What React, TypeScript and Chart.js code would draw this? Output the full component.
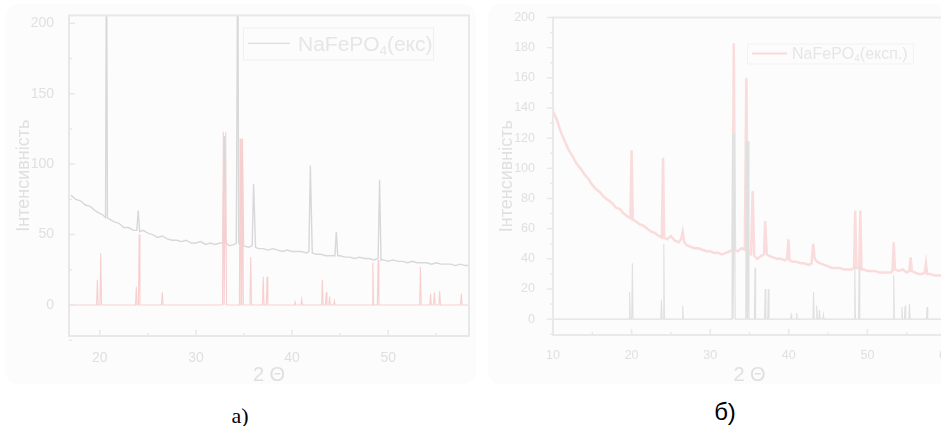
import React, { useEffect, useRef } from "react";
import { Chart, registerables } from "chart.js";
Chart.register(...registerables);

const FONT = "'Liberation Sans', Arial, sans-serif";

// ---------- Panel а: experimental pattern (2θ, intensity) ----------
const expA: [number, number][] = [
  [17, 78], [17.5, 75], [18, 74], [18.5, 71], [19, 70], [19.5, 67], [20, 65], [20.3, 64], [20.6, 62], [20.7, 260], [20.8, 62],
  [21, 61], [21.5, 59], [22, 58], [22.5, 55], [23, 55], [23.5, 53], [23.85, 53], [24.0, 67], [24.15, 52], [24.5, 53],
  [25, 51], [25.5, 50], [26, 48], [26.5, 49], [27, 47], [27.5, 46], [28, 46], [28.5, 45], [29, 46], [29.5, 44], [30, 44],
  [30.5, 45], [31, 43], [31.5, 44], [32, 43], [32.5, 44], [32.8, 44], [32.95, 120], [33.1, 44], [33.5, 42], [34.0, 43],
  [34.2, 44], [34.35, 260], [34.45, 44], [34.65, 43], [34.8, 118], [34.95, 42], [35.5, 41], [35.85, 42], [36.0, 86],
  [36.2, 41], [36.5, 40], [37, 40], [37.5, 39], [38, 40], [38.5, 39], [39, 38], [39.5, 39], [40, 38], [40.5, 38], [41, 38],
  [41.5, 37], [41.75, 38], [41.9, 99], [42.1, 37], [42.5, 36], [43, 36], [43.5, 35], [44, 35], [44.45, 35], [44.6, 52],
  [44.75, 35], [45, 35], [45.5, 34], [46, 34], [46.5, 33], [47, 34], [47.5, 33], [48, 33], [48.5, 32], [48.95, 33],
  [49.1, 89], [49.25, 32], [49.5, 32], [50, 31], [50.5, 32], [51, 31], [51.5, 31], [52, 30], [52.5, 31], [53, 30],
  [53.5, 30], [54, 30], [54.5, 29], [55, 30], [55.5, 29], [56, 29], [56.5, 29], [57, 28], [57.5, 29], [58, 28], [58.5, 28],
];

// ---------- Panel б: experimental pattern ----------
const expB: [number, number][] = [
  [10, 138], [10.5, 132], [11, 124], [11.5, 118], [12, 112], [12.5, 108], [13, 103], [13.5, 100], [14, 96], [14.5, 93],
  [15, 89], [15.5, 86], [16, 84], [16.5, 81], [17, 79], [17.5, 77], [18, 74], [18.5, 73], [19, 70], [19.5, 68],
  [19.85, 67], [20.0, 112], [20.15, 66], [20.5, 65], [21, 63], [21.5, 62], [22, 60], [22.5, 58], [23, 57], [23.5, 55],
  [23.85, 54], [24.0, 107], [24.15, 54], [24.5, 53], [25, 55], [25.5, 52], [26, 51], [26.3, 53], [26.5, 58], [26.7, 51],
  [27, 49], [27.5, 48], [28, 47], [28.5, 47], [29, 46], [29.5, 45], [30, 45], [30.5, 44], [31, 44], [31.5, 43], [32, 44],
  [32.5, 45], [32.85, 46], [33.0, 183], [33.15, 46], [33.5, 45], [34, 47], [34.4, 46], [34.6, 160], [34.8, 44],
  [35.2, 43], [35.4, 85], [35.6, 42], [36, 40], [36.5, 42], [36.85, 43], [37.0, 65], [37.2, 43], [37.5, 42], [38, 41],
  [38.5, 40], [39, 40], [39.5, 39], [39.8, 40], [39.95, 53], [40.1, 39], [40.5, 38], [41, 38], [41.5, 37], [42, 37],
  [42.5, 36], [42.9, 37], [43.1, 50], [43.3, 40], [43.6, 38], [44, 37], [44.5, 36], [45, 35], [45.5, 34], [46, 34],
  [46.5, 34], [47, 33], [47.5, 33], [48, 33], [48.3, 34], [48.45, 72], [48.6, 34], [48.95, 34], [49.1, 72], [49.25, 33],
  [49.5, 33], [50, 32], [50.5, 32], [51, 32], [51.5, 31], [52, 31], [52.5, 31], [53, 31], [53.2, 32], [53.35, 51],
  [53.5, 33], [54, 32], [54.5, 33], [55, 31], [55.35, 32], [55.5, 41], [55.65, 32], [56, 31], [56.5, 30], [57, 30],
  [57.3, 31], [57.45, 37], [57.6, 30], [58, 30], [58.5, 29], [59, 29], [59.5, 29], [60, 28],
];

// ---------- Reference stick pattern ----------
const refPos = [19.75, 20.1, 23.8, 24.1, 26.5, 32.85, 33.1, 34.6, 34.85, 35.7, 37.0, 37.4, 40.3, 41.0, 43.15, 43.55, 43.9, 44.4, 48.4, 48.95, 53.35, 54.4, 54.8, 55.35, 57.6];
const refIntA = [18, 37, 13, 50, 9, 123, 123, 118, 118, 34, 20, 20, 3, 4, 18, 9, 6, 3, 30, 32, 27, 8, 9, 10, 8];
const refIntB = [18, 37, 13, 50, 9, 123, 123, 118, 118, 34, 20, 20, 3, 4, 18, 9, 6, 3, 35, 35, 29, 8, 9, 10, 8];

// ---------- Axis ticks ----------
const xTicksA = [20, 30, 40, 50];
const xMinorA = [25, 35, 45, 55];
const yTicksA = [0, 50, 100, 150, 200];
const yMinorA = [-25, 25, 75, 125, 175];
const xTicksB = [10, 20, 30, 40, 50, 60];
const xMinorB = [15, 25, 35, 45, 55];
const yTicksB = [0, 20, 40, 60, 80, 100, 120, 140, 160, 180, 200];
const yMinorB = [-10, 10, 30, 50, 70, 90, 110, 130, 150, 170, 190];

const legendA = ["NaFePO", "4", "(екс)"];
const legendB = ["NaFePO", "4", "(експ.)"];

function sticks(pos: number[], h: number[], min: number, max: number, hw: number) {
  const pts: { x: number; y: number }[] = [{ x: min, y: 0 }];
  pos.forEach((p, i) => {
    pts.push({ x: p - hw, y: 0 }, { x: p, y: h[i] }, { x: p + hw, y: 0 });
  });
  pts.push({ x: max, y: 0 });
  return pts;
}

const framePlugin = {
  id: "frame",
  afterDatasetsDraw(chart: any, _a: any, o: any) {
    if (!o || !o.on) return;
    const { ctx, chartArea: ca, scales } = chart;
    const x = scales.x, y = scales.y;
    ctx.save();
    const seg = (x1: number, y1: number, x2: number, y2: number) => {
      ctx.beginPath(); ctx.moveTo(x1, y1); ctx.lineTo(x2, y2); ctx.stroke();
    };
    ctx.strokeStyle = o.color;
    ctx.lineWidth = o.lineWidth;
    ctx.strokeRect(ca.left, ca.top, ca.right - ca.left, ca.bottom - ca.top);
    ctx.lineWidth = 1.5;
    for (const v of o.xMajor) { const p = x.getPixelForValue(v); seg(p, ca.bottom, p, ca.bottom - 6); }
    for (const v of o.xMinor) { const p = x.getPixelForValue(v); seg(p, ca.bottom, p, ca.bottom - 3); }
    const d = o.yOut ? -1 : 1;
    for (const v of o.yMajor) { const p = y.getPixelForValue(v); seg(ca.left, p, ca.left + d * 6, p); }
    for (const v of o.yMinor) { const p = y.getPixelForValue(v); seg(ca.left, p, ca.left + d * 3, p); }
    // legend
    const L = o.legend;
    const bx = ca.left + L.x, by = ca.top + L.y;
    ctx.strokeStyle = L.boxColor; ctx.lineWidth = 1;
    ctx.strokeRect(bx + 0.5, by + 0.5, L.w, L.h);
    ctx.strokeStyle = L.lineColor; ctx.lineWidth = L.lineWidth;
    seg(bx + L.lx1, by + L.ly, bx + L.lx2, by + L.ly);
    ctx.fillStyle = L.textColor;
    ctx.textBaseline = "alphabetic";
    ctx.textAlign = "left";
    let tx = bx + L.tx;
    const base = by + L.ly + L.size * 0.36;
    ctx.font = `${L.size}px ${FONT}`;
    ctx.fillText(L.parts[0], tx, base); tx += ctx.measureText(L.parts[0]).width;
    ctx.font = `${Math.round(L.size * 0.62)}px ${FONT}`;
    ctx.fillText(L.parts[1], tx, base + L.size * 0.18); tx += ctx.measureText(L.parts[1]).width;
    ctx.font = `${L.size}px ${FONT}`;
    ctx.fillText(L.parts[2], tx, base);
    ctx.restore();
  },
};

type PanelCfg = {
  datasets: any[];
  xMin: number; xMax: number; yMin: number; yMax: number;
  xTicks: number[]; yTicks: number[];
  padding: any; yWidth: number; xHeight: number;
  tickSize: number; xTickPad: number; yTickPad: number;
  yTitlePad: number; xTitlePad: number;
  frame: any;
};

const TEXT = "#e0e0e0";

function Panel({ cfg, width, height, left }: { cfg: PanelCfg; width: number; height: number; left: number }) {
  const ref = useRef<HTMLCanvasElement>(null);
  useEffect(() => {
    const chart = new Chart(ref.current!, {
      type: "line",
      data: { datasets: cfg.datasets },
      plugins: [framePlugin],
      options: {
        animation: false,
        responsive: false,
        devicePixelRatio: 1,
        layout: { padding: cfg.padding },
        elements: { point: { radius: 0 }, line: { tension: 0 } },
        plugins: { legend: { display: false }, tooltip: { enabled: false }, frame: { on: true, ...cfg.frame } } as any,
        scales: {
          x: {
            type: "linear", min: cfg.xMin, max: cfg.xMax,
            afterBuildTicks: (s: any) => { s.ticks = cfg.xTicks.map((v) => ({ value: v })); },
            afterFit: (s: any) => { s.height = cfg.xHeight; },
            grid: { display: false }, border: { display: false },
            ticks: { color: TEXT, font: { family: FONT, size: cfg.tickSize }, padding: cfg.xTickPad, maxRotation: 0 },
            title: { display: true, text: "2 Θ", color: TEXT, font: { family: FONT, size: 20 }, padding: { top: 0, bottom: cfg.xTitlePad } },
          },
          y: {
            type: "linear", min: cfg.yMin, max: cfg.yMax,
            afterBuildTicks: (s: any) => { s.ticks = cfg.yTicks.map((v) => ({ value: v })); },
            afterFit: (s: any) => { s.width = cfg.yWidth; },
            grid: { display: false }, border: { display: false },
            ticks: { color: TEXT, font: { family: FONT, size: cfg.tickSize }, padding: cfg.yTickPad },
            title: { display: true, text: "Інтенсивність", color: TEXT, font: { family: FONT, size: 18 }, padding: { top: cfg.yTitlePad, bottom: 0 } },
          },
        },
      } as any,
    });
    return () => chart.destroy();
  }, []);
  return (
    <canvas ref={ref} width={width} height={height} style={{ position: "absolute", left, top: 0, width, height }} />
  );
}

const cfgA: PanelCfg = {
  datasets: [
    { data: sticks(refPos, refIntA, 16.8, 58.4, 0.08), borderColor: "#f8cfcf", borderWidth: 1.1, order: 1 },
    { data: expA.map(([x, y]) => ({ x, y })), borderColor: "#d8d8d8", borderWidth: 1.4, order: 2 },
  ],
  xMin: 16.8, xMax: 58.4, yMin: -22, yMax: 205.6,
  xTicks: xTicksA, yTicks: yTicksA,
  padding: { left: 0, right: 11, top: 13, bottom: 0 },
  yWidth: 69, xHeight: 59, tickSize: 14, xTickPad: 6, yTickPad: 7, yTitlePad: 13, xTitlePad: 8,
  frame: {
    color: "#e8e8e8", lineWidth: 2, xMajor: xTicksA, xMinor: xMinorA, yMajor: yTicksA, yMinor: yMinorA, yOut: false,
    legend: { x: 174, y: 12, w: 190, h: 32, lx1: 5, lx2: 47, ly: 16, tx: 55, size: 21, parts: legendA,
      boxColor: "#f0f0f0", lineColor: "#dedede", lineWidth: 1.3, textColor: "#e6e6e6" },
  },
};

const cfgB: PanelCfg = {
  datasets: [
    { data: expB.map(([x, y]) => ({ x, y })), borderColor: "#fadcdc", borderWidth: 2.5, order: 2 },
    { data: sticks(refPos, refIntB, 10, 60, 0.08), borderColor: "#e0e0e0", borderWidth: 1.1, order: 1 },
  ],
  xMin: 10, xMax: 60, yMin: -10.5, yMax: 200,
  xTicks: xTicksB, yTicks: yTicksB,
  padding: { left: 0, right: 14, top: 16, bottom: 0 },
  yWidth: 73, xHeight: 60, tickSize: 12.5, xTickPad: 5, yTickPad: 10, yTitlePad: 16, xTitlePad: 8,
  frame: {
    color: "#e9e9e9", lineWidth: 2, xMajor: xTicksB, xMinor: xMinorB, yMajor: yTicksB, yMinor: yMinorB, yOut: true,
    legend: { x: 194, y: 26, w: 166, h: 20, lx1: 5, lx2: 40, ly: 10, tx: 45, size: 16, parts: legendB,
      boxColor: "#f2f2f2", lineColor: "#f9dada", lineWidth: 2, textColor: "#e6e6e6" },
  },
};

export default function App() {
  return (
    <div style={{ position: "fixed", left: 0, top: 0, width: 941, height: 426, overflow: "hidden", background: "#ffffff" }}>
      <div style={{ position: "absolute", left: 6, top: 4, width: 470, height: 380, background: "#fcfcfc", borderRadius: 12 }} />
      <div style={{ position: "absolute", left: 488, top: 4, width: 460, height: 380, background: "#fcfcfc", borderRadius: 12 }} />
      <Panel cfg={cfgA} width={480} height={395} left={0} />
      <Panel cfg={cfgB} width={480} height={395} left={480} />
      <div style={{ position: "absolute", left: 200, width: 80, top: 404, textAlign: "center", fontFamily: "'Liberation Serif', 'Times New Roman', serif", fontSize: 22, lineHeight: "24px", color: "#000" }}>а)</div>
      <div style={{ position: "absolute", left: 685, width: 80, top: 398, textAlign: "center", fontFamily: FONT, fontSize: 24, lineHeight: "28px", color: "#000" }}>б)</div>
    </div>
  );
}
